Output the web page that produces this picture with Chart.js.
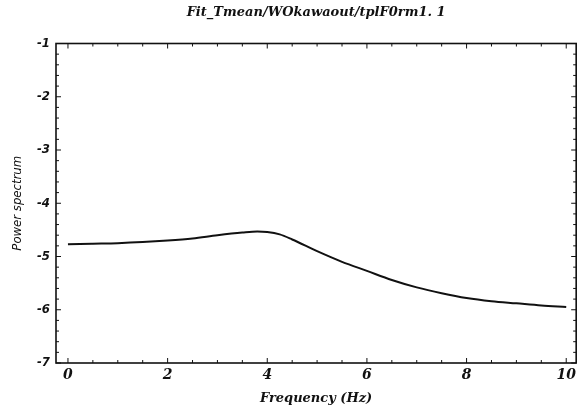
<!DOCTYPE html>
<html>
<head>
<meta charset="utf-8">
<script src="https://cdn.jsdelivr.net/npm/chart.js@4"></script>
<style>
  html, body { margin: 0; padding: 0; background: #fff; }
  #wrap { width: 580px; height: 412px; }
</style>
</head>
<body>
<div id="wrap"><canvas id="myChart" width="580" height="412"></canvas></div>
<script>
'use strict'

// values
const frequency = [0, 0.5, 1, 1.5, 2, 2.5, 3, 3.5, 3.8, 4, 4.25, 4.5, 5, 5.5, 6, 6.5, 7, 7.5, 8, 8.5, 9, 9.5, 10]
const power = [-4.77, -4.76, -4.75, -4.73, -4.70, -4.66, -4.60, -4.55, -4.53, -4.54, -4.585, -4.68, -4.90, -5.10, -5.27, -5.44, -5.58, -5.69, -5.78, -5.84, -5.88, -5.92, -5.95]
const xTicks = [0, 2, 4, 6, 8, 10]
const yTicks = [-7, -6, -5, -4, -3, -2, -1]

const titleText = 'Fit_Tmean/WOkawaout/tplF0rm1. 1'
const xTitle = 'Frequency (Hz)'
const yTitle = 'Power spectrum'

const serif = '"DejaVu Serif", "Liberation Serif", serif'
const sans = '"DejaVu Sans Condensed", "Liberation Sans Narrow", "Liberation Sans", sans-serif'

const points = frequency.map((f, i) => ({ x: f, y: power[i] }))

// frame, tick marks on all four sides, title centred over the plot
const framePlugin = {
  id: 'frame',
  afterDraw: (chart) => {
    const { ctx, chartArea: a, scales } = chart
    const xs = scales.x
    const ys = scales.y
    ctx.save()
    ctx.strokeStyle = '#111'
    ctx.lineWidth = 1.6
    ctx.strokeRect(a.left, a.top, a.right - a.left, a.bottom - a.top)

    ctx.lineWidth = 1
    const tick = (x1, y1, x2, y2) => {
      ctx.beginPath()
      ctx.moveTo(x1, y1)
      ctx.lineTo(x2, y2)
      ctx.stroke()
    }
    for (let v = 0; v <= 10.001; v += 0.5) {
      const px = xs.getPixelForValue(v)
      const len = Math.abs(v % 2) < 0.001 ? 5 : 3
      tick(px, a.bottom, px, a.bottom - len)
      tick(px, a.top, px, a.top + len)
    }
    for (let v = -7; v <= -0.999; v += 0.2) {
      const py = ys.getPixelForValue(v)
      const major = Math.abs(v - Math.round(v)) < 0.001
      const len = major ? 5 : 3
      tick(a.left, py, a.left + len, py)
      tick(a.right, py, a.right - len, py)
    }

    ctx.fillStyle = '#111'
    ctx.font = 'italic bold 13px ' + serif
    ctx.textAlign = 'center'
    ctx.textBaseline = 'middle'
    ctx.fillText(titleText, (a.left + a.right) / 2, 13)
    ctx.restore()
  }
}

const ctx = document.getElementById('myChart')

const myChart = new Chart(ctx, {
  type: 'scatter',
  data: {
    datasets: [
      {
        label: yTitle,
        data: points,
        showLine: true,
        borderColor: '#111',
        borderWidth: 2,
        pointRadius: 0,
        cubicInterpolationMode: 'monotone',
        fill: false,
      },
    ],
  },
  options: {
    responsive: false,
    animation: false,
    devicePixelRatio: 1,
    layout: {
      padding: { left: 0, right: 2, top: 43.5, bottom: 0 },
    },
    plugins: {
      legend: { display: false },
      tooltip: { enabled: false },
      title: { display: false },
    },
    scales: {
      x: {
        type: 'linear',
        min: -0.24,
        max: 10.2,
        afterBuildTicks: (axis) => {
          axis.ticks = xTicks.map((v) => ({ value: v }))
        },
        afterFit: (axis) => {
          axis.height = 49
        },
        grid: { display: false, drawTicks: false },
        border: { display: false },
        ticks: {
          color: '#111',
          padding: 4,
          maxRotation: 0,
          autoSkip: false,
          font: { family: serif, size: 14, style: 'italic', weight: 'bold' },
        },
        title: {
          display: true,
          text: xTitle,
          color: '#111',
          font: { family: serif, size: 13, style: 'italic', weight: 'bold' },
          padding: { top: 6, bottom: 6 },
        },
      },
      y: {
        type: 'linear',
        min: -7,
        max: -1,
        afterBuildTicks: (axis) => {
          axis.ticks = yTicks.map((v) => ({ value: v }))
        },
        afterFit: (axis) => {
          axis.width = 56
        },
        grid: { display: false, drawTicks: false },
        border: { display: false },
        ticks: {
          color: '#111',
          padding: 6,
          font: { family: sans, size: 13, style: 'italic', weight: 'bold' },
        },
        title: {
          display: true,
          text: yTitle,
          color: '#111',
          font: { family: sans, size: 13, style: 'italic' },
          padding: { top: 10, bottom: 4 },
        },
      },
    },
  },
  plugins: [framePlugin],
})
</script>
</body>
</html>
